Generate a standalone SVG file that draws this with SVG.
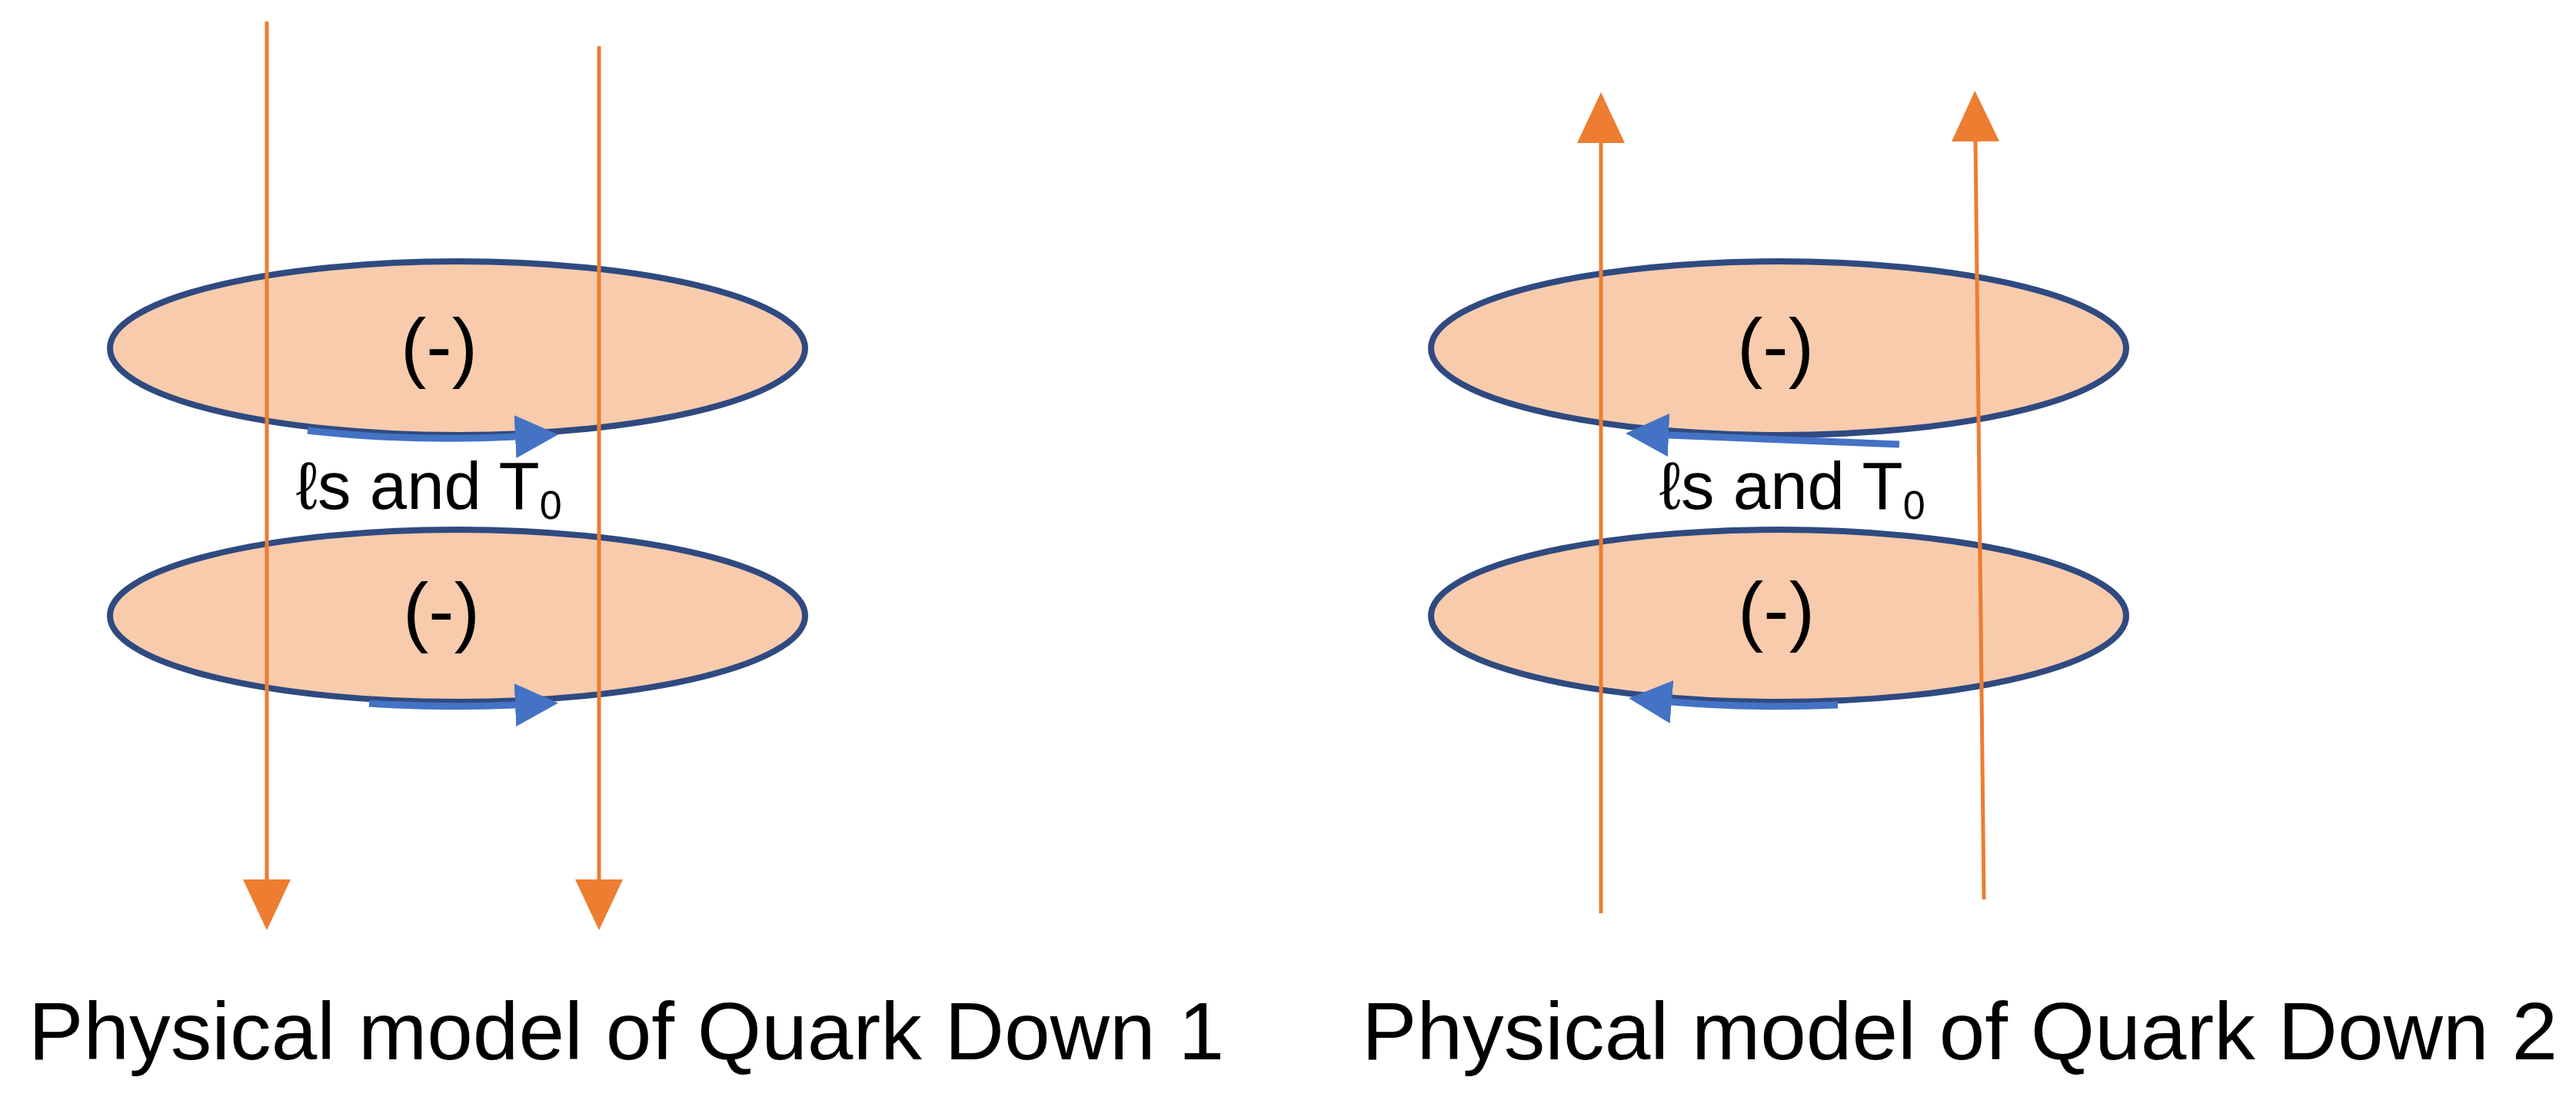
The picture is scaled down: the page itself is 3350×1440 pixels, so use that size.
<svg xmlns="http://www.w3.org/2000/svg" width="3350" height="1440" viewBox="0 0 3350 1440">
  <style>
    .disc { fill: #F8CBAD; stroke: #2F4A80; stroke-width: 8; }
    .sign { font-family: "Liberation Sans", Arial, sans-serif; font-size: 100px; fill: #000; text-anchor: middle; }
    .mid { font-family: "Liberation Sans", "DejaVu Sans", Arial, sans-serif; font-size: 87px; fill: #000; }
    .sub { font-size: 52px; }
    .label { font-family: "Liberation Sans", Arial, sans-serif; font-size: 105px; fill: #000; }
    .field { stroke: #ED7D31; stroke-width: 5; fill: none; }
    .spin { stroke: #4472C4; stroke-width: 9; fill: none; }
  </style>
  <defs>
    <marker id="orangeHead" viewBox="0 0 66 62" refX="0" refY="31" markerWidth="66" markerHeight="62" markerUnits="userSpaceOnUse" orient="auto">
      <path d="M0,0 L66,31 L0,62 Z" fill="#ED7D31"/>
    </marker>
    <marker id="blueHead" viewBox="0 0 56 56" refX="0" refY="28" markerWidth="56" markerHeight="56" markerUnits="userSpaceOnUse" orient="auto">
      <path d="M0,0 L56,28 L0,56 Z" fill="#4472C4"/>
    </marker>
  </defs>
  <rect width="3350" height="1440" fill="#FFFFFF"/>

  <!-- Panel 1 -->
  <g id="q1-top-disc">
    <ellipse class="disc" cx="595" cy="453" rx="452" ry="113"/>
  </g>
  <g id="q1-bottom-disc">
    <ellipse class="disc" cx="595" cy="801" rx="452" ry="112"/>
  </g>
  <!-- Panel 2 -->
  <g id="q2-top-disc">
    <ellipse class="disc" cx="2313" cy="453" rx="452" ry="113"/>
  </g>
  <g id="q2-bottom-disc">
    <ellipse class="disc" cx="2313" cy="801" rx="452" ry="112"/>
  </g>

  <g id="connectors">
    <!-- orange field lines, panel 1 (down) -->
    <line class="field" x1="347" y1="28" x2="347" y2="1144" marker-end="url(#orangeHead)"/>
    <line class="field" x1="779" y1="60" x2="779" y2="1144" marker-end="url(#orangeHead)"/>
    <!-- orange field lines, panel 2 (up) -->
    <line class="field" x1="2082" y1="1188" x2="2082" y2="186" marker-end="url(#orangeHead)"/>
    <line class="field" x1="2580" y1="1170" x2="2569" y2="184" marker-end="url(#orangeHead)"/>
    <!-- blue spin arrows, panel 1 (right) -->
    <path class="spin" d="M400,560 A456,119 0 0,0 670,568" marker-end="url(#blueHead)"/>
    <path class="spin" d="M480,915 A456,118 0 0,0 670,917" marker-end="url(#blueHead)"/>
    <!-- blue spin arrows, panel 2 (left) -->
    <path class="spin" d="M2470,578 L2170,566" marker-end="url(#blueHead)"/>
    <path class="spin" d="M2390,917 A456,118 0 0,1 2174,913" marker-end="url(#blueHead)"/>
  </g>

  <g id="q1-top-sign"><text class="sign" x="571" y="485">(-)</text></g>
  <g id="q1-bottom-sign"><text class="sign" x="574" y="829">(-)</text></g>
  <g id="q2-top-sign"><text class="sign" x="2309" y="485">(-)</text></g>
  <g id="q2-bottom-sign"><text class="sign" x="2310" y="828">(-)</text></g>

  <g id="q1-mid-label"><text class="mid" x="385" y="662">ℓs and T<tspan class="sub" dy="13">0</tspan></text></g>
  <g id="q2-mid-label"><text class="mid" x="2158" y="662">ℓs and T<tspan class="sub" dy="13">0</tspan></text></g>

  <g id="q1-caption"><text class="label" x="37" y="1378" textLength="1555" lengthAdjust="spacingAndGlyphs">Physical model of Quark Down 1</text></g>
  <g id="q2-caption"><text class="label" x="1771" y="1378" textLength="1555" lengthAdjust="spacingAndGlyphs">Physical model of Quark Down 2</text></g>
</svg>
